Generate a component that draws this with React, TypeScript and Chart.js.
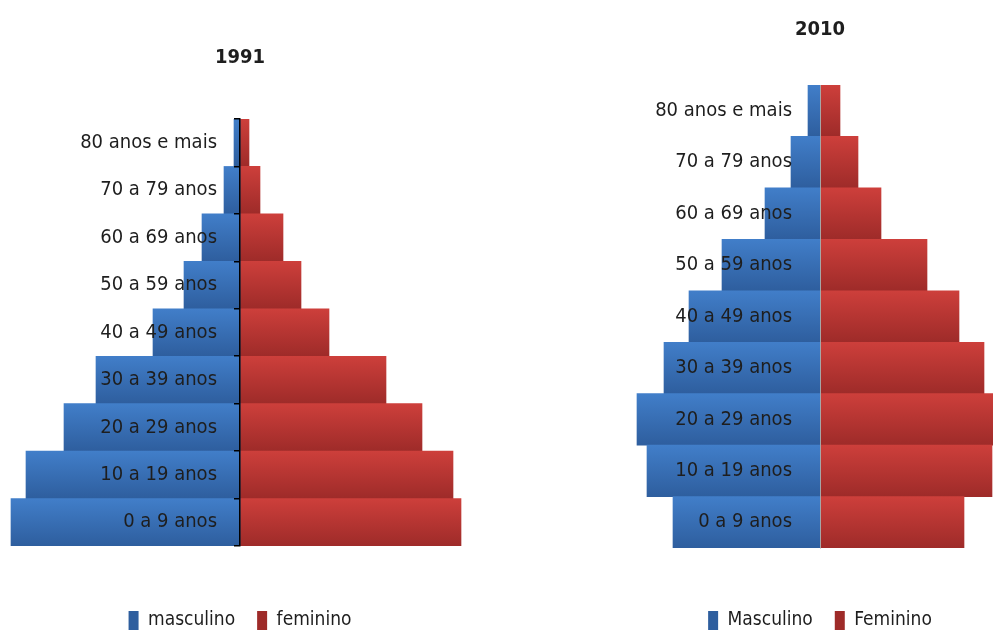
import React, { useEffect, useRef } from "react";
import { Chart, registerables } from "chart.js";

Chart.register(...registerables);

// Age groups, top to bottom
const categories = [
  "80 anos e mais",
  "70 a 79 anos",
  "60 a 69 anos",
  "50 a 59 anos",
  "40 a 49 anos",
  "30 a 39 anos",
  "20 a 29 anos",
  "10 a 19 anos",
  "0 a 9 anos",
];

// 1991 (% of population, estimated)
const male1991 = [0.3, 0.8, 1.9, 2.8, 4.35, 7.2, 8.8, 10.7, 11.45];
const female1991 = [0.45, 1.0, 2.15, 3.05, 4.45, 7.3, 9.1, 10.65, 11.05];

// 2010 (% of population, estimated)
const male2010 = [0.6, 1.45, 2.75, 4.9, 6.55, 7.8, 9.15, 8.65, 7.35];
const female2010 = [1.0, 1.9, 3.05, 5.35, 6.95, 8.2, 8.7, 8.6, 7.2];

const legend1991 = ["masculino", "feminino"];
const legend2010 = ["Masculino", "Feminino"];

const FONT = "'DejaVu Sans Condensed', 'Liberation Sans Narrow', 'Liberation Sans', sans-serif";

const BLUE_TOP = "#417ec9";
const BLUE_BOT = "#2e5e9e";
const RED_TOP = "#cd3f3b";
const RED_BOT = "#9e2b29";

function barFill(top: string, bottom: string) {
  return (ctx: any) => {
    const chart = ctx.chart;
    const ys = chart.scales && chart.scales.y;
    if (!ys || ctx.type !== "data" || !chart.chartArea) return bottom;
    const n = ys.getLabels().length;
    const band = (ys.bottom - ys.top) / n;
    const c = ys.getPixelForValue(ctx.dataIndex);
    const g = chart.ctx.createLinearGradient(0, c - band / 2, 0, c + band / 2);
    g.addColorStop(0, top);
    g.addColorStop(1, bottom);
    return g;
  };
}

interface PyrProps {
  title: string;
  male: number[];
  female: number[];
  names: string[];
  xMin: number;
  xMax: number;
  titlePadTop: number;
  titlePadBottom: number;
  xAxisSpace: number;
  axisColor: string;
  axisWidth: number;
  showTicks: boolean;
  left: number;
  width: number;
  height: number;
}

function Pyramid(p: PyrProps) {
  const ref = useRef<HTMLCanvasElement | null>(null);
  useEffect(() => {
    if (!ref.current) return;
    const chart = new Chart(ref.current, {
      type: "bar",
      data: {
        labels: categories,
        datasets: [
          {
            label: p.names[0],
            data: p.male.map((v) => -v),
            backgroundColor: barFill(BLUE_TOP, BLUE_BOT),
            borderWidth: 0,
            barPercentage: 1,
            categoryPercentage: 1,
          },
          {
            label: p.names[1],
            data: p.female,
            backgroundColor: barFill(RED_TOP, RED_BOT),
            borderWidth: 0,
            barPercentage: 1,
            categoryPercentage: 1,
          },
        ],
      },
      options: {
        indexAxis: "y",
        animation: false,
        responsive: false,
        maintainAspectRatio: false,
        layout: { padding: 0 },
        scales: {
          x: {
            stacked: true,
            min: p.xMin,
            max: p.xMax,
            display: true,
            grid: { display: false },
            border: { display: false },
            ticks: { display: false },
            afterFit: (s: any) => {
              s.height = p.xAxisSpace;
            },
          },
          y: {
            stacked: true,
            position: "center",
            grid: {
              display: p.showTicks,
              drawOnChartArea: false,
              drawTicks: true,
              tickLength: 5,
              color: p.axisColor,
              lineWidth: 1.5,
              z: 1,
            },
            border: { display: true, color: p.axisColor, width: p.axisWidth, z: 1 },
            ticks: {
              color: "#1e1e1e",
              padding: p.showTicks ? 18 : 23,
              font: { family: FONT, size: 20 },
              z: 1,
            },
            afterFit: (s: any) => {
              s.width = 0;
            },
          },
        },
        plugins: {
          title: {
            display: true,
            text: p.title,
            color: "#1e1e1e",
            font: { family: FONT, size: 20, weight: "bold", lineHeight: 1.2 },
            padding: { top: p.titlePadTop, bottom: p.titlePadBottom },
          },
          legend: {
            display: true,
            position: "bottom",
            labels: {
              boxWidth: 10,
              boxHeight: 19,
              padding: 22,
              color: "#1e1e1e",
              font: { family: FONT, size: 19 },
              generateLabels: (c: any) => {
                const items = Chart.defaults.plugins.legend.labels.generateLabels(c);
                const fills = [BLUE_BOT, RED_BOT];
                return items.map((it: any, i: number) => ({
                  ...it,
                  fillStyle: fills[i],
                  strokeStyle: fills[i],
                  lineWidth: 0,
                }));
              },
            },
          },
          tooltip: { enabled: false },
        },
      },
    });
    return () => chart.destroy();
  }, []);
  return (
    <div style={{ position: "absolute", left: p.left, top: 0, width: p.width, height: p.height }}>
      <canvas ref={ref} width={p.width} height={p.height} style={{ width: p.width, height: p.height }} />
    </div>
  );
}

export default function App() {
  return (
    <div
      style={{
        position: "fixed",
        left: 0,
        top: 0,
        width: 993,
        height: 631,
        overflow: "hidden",
        background: "#ffffff",
      }}
    >
      <Pyramid
        title="1991"
        male={male1991}
        female={female1991}
        names={legend1991}
        xMin={-12}
        xMax={12}
        titlePadTop={46}
        titlePadBottom={49}
        xAxisSpace={43}
        axisColor="#000000"
        axisWidth={1.5}
        showTicks={true}
        left={0}
        width={480}
        height={640}
      />
      <Pyramid
        title="2010"
        male={male2010}
        female={female2010}
        names={legend2010}
        xMin={-9.5}
        xMax={9.5}
        titlePadTop={18}
        titlePadBottom={43}
        xAxisSpace={41}
        axisColor="#a6a6a6"
        axisWidth={1}
        showTicks={false}
        left={630}
        width={380}
        height={640}
      />
    </div>
  );
}
